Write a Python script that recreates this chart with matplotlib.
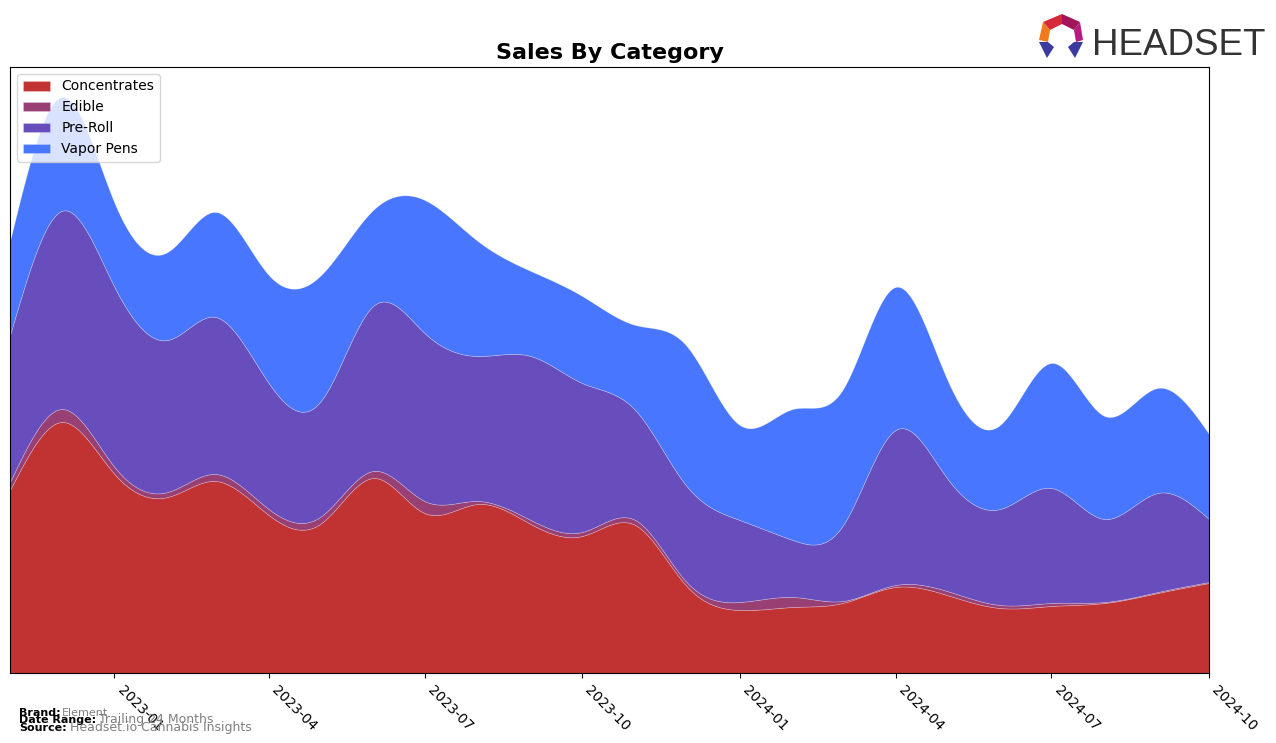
import numpy as np
import pandas as pd
import matplotlib
matplotlib.use("Agg")
import matplotlib.pyplot as plt
import matplotlib.dates as mdates
from matplotlib.patches import Polygon

# monthly sales by category (relative units)
months = pd.date_range("2022-11-01", "2024-10-01", freq="MS")
concentrates = [183, 251, 199, 176, 192, 158, 149, 195, 160, 169, 149, 137,
                148, 87, 63, 66, 70, 86, 78, 65, 67, 70, 80, 90]
edible = [8, 13, 7, 5, 7, 6, 7, 7, 12, 3, 4, 4,
          5, 4, 8, 10, 2, 2, 4, 3, 3, 1, 1, 1]
pre_roll = [147, 198, 180, 152, 157, 126, 115, 165, 168, 145, 164, 149,
            110, 96, 82, 57, 75, 155, 113, 96, 115, 83, 99, 63]
vapor_pens = [94, 114, 84, 88, 105, 108, 126, 96, 133, 115, 85, 87,
              85, 140, 95, 131, 136, 143, 99, 84, 125, 103, 105, 85]

labels = ["Concentrates", "Edible", "Pre-Roll", "Vapor Pens"]
colors = ["#c13333", "#983f74", "#684ebc", "#4876ff"]
tick_dates = pd.date_range("2023-01-01", "2024-10-01", freq="3MS")


def spline(x, y, xs):
    # natural cubic spline, only used to draw smooth curves through the points
    x = np.asarray(x, float)
    y = np.asarray(y, float)
    n = len(x)
    h = np.diff(x)
    A = np.zeros((n, n))
    b = np.zeros(n)
    A[0, 0] = A[-1, -1] = 1
    for i in range(1, n - 1):
        A[i, i - 1] = h[i - 1]
        A[i, i] = 2 * (h[i - 1] + h[i])
        A[i, i + 1] = h[i]
        b[i] = 3 * ((y[i + 1] - y[i]) / h[i] - (y[i] - y[i - 1]) / h[i - 1])
    c = np.linalg.solve(A, b)
    idx = np.clip(np.searchsorted(x, xs) - 1, 0, n - 2)
    dx = xs - x[idx]
    bb = (y[idx + 1] - y[idx]) / h[idx] - h[idx] * (2 * c[idx] + c[idx + 1]) / 3
    dd = (c[idx + 1] - c[idx]) / (3 * h[idx])
    return y[idx] + bb * dx + c[idx] * dx ** 2 + dd * dx ** 3


def main():
    fig = plt.figure(figsize=(12.76, 7.43), dpi=100)
    ax = fig.add_axes([10 / 1276, 70 / 743, 1199 / 1276, 606 / 743])

    xn = mdates.date2num(months)
    xs = np.linspace(xn[0], xn[-1], 600)
    series = [concentrates, edible, pre_roll, vapor_pens]
    smooth = [np.clip(spline(xn, s, xs), 0, None) for s in series]

    ax.stackplot(xs, *smooth, labels=labels, colors=colors,
                 edgecolor=(1, 1, 1, 0.3), linewidth=0.5)

    ax.set_xlim(xn[0], xn[-1])
    ax.set_ylim(0, 606)
    ax.set_xticks(mdates.date2num(tick_dates))
    ax.set_xticklabels([d.strftime("%Y-%m") for d in tick_dates],
                       rotation=-45, ha="left")
    ax.set_yticks([])
    ax.set_title("Sales By Category", fontsize=16, fontweight="bold")
    ax.legend(loc="upper left")

    # footer
    fig.text(19 / 1276, 1 - 716 / 743, "Brand:", fontsize=8, fontweight="bold")
    fig.text(62 / 1276, 1 - 716 / 743, "Element", fontsize=8, color="gray")
    fig.text(19 / 1276, 1 - 723 / 743, "Date Range:", fontsize=8, fontweight="bold")
    fig.text(99 / 1276, 1 - 723 / 743, "Trailing 24 Months", fontsize=9, color="gray")
    fig.text(19 / 1276, 1 - 731 / 743, "Source:", fontsize=8, fontweight="bold")
    fig.text(70 / 1276, 1 - 731 / 743, "Headset.io Cannabis Insights", fontsize=9, color="gray")

    # logo
    fig.text(1092 / 1276, 1 - 55 / 743, "HEADSET", fontsize=26.5, color="#333333",
             family="Liberation Sans")
    def px(pts):
        return [(u / 1276, 1 - v / 743) for u, v in pts]
    shapes = [
        ([(1043, 22), (1062, 14), (1062, 24), (1050, 30)], "#d42a3a"),
        ([(1062, 14), (1080, 22), (1074, 30), (1062, 24)], "#a3155a"),
        ([(1080, 22), (1083, 40), (1076, 42), (1074, 30)], "#b61b7d"),
        ([(1043, 22), (1050, 30), (1048, 42), (1039, 40)], "#f07a1e"),
        ([(1039, 42), (1048, 42), (1054, 47), (1047, 58)], "#3b3a9f"),
        ([(1083, 42), (1074, 42), (1068, 47), (1075, 58)], "#3b3a9f"),
    ]
    for pts, col in shapes:
        fig.patches.append(Polygon(px(pts), closed=True, transform=fig.transFigure,
                                   facecolor=col, edgecolor="none"))

    plt.savefig("out.png", dpi=100)


if __name__ == "__main__":
    main()
